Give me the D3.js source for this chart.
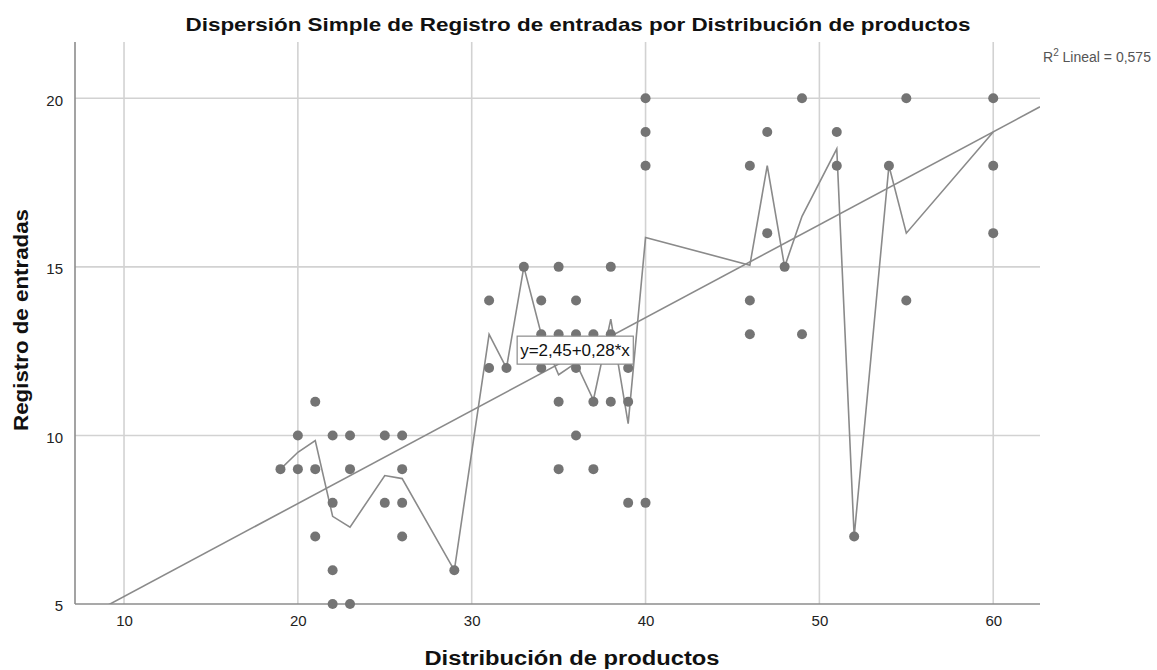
<!DOCTYPE html>
<html>
<head>
<meta charset="utf-8">
<script src="https://cdn.jsdelivr.net/npm/d3@7"></script>
<style>
  html, body { margin: 0; padding: 0; background: #fff; }
  svg { display: block; font-family: "Liberation Sans", Arial, sans-serif; }
</style>
</head>
<body>
<svg id="chart" width="1157" height="670"></svg>
<script>
// ---- Data ----
const pointX = [19,20,20,21,21,21,22,22,22,22,23,23,23,25,25,26,26,26,26,29,
                31,31,32,33,34,34,34,35,35,35,35,36,36,36,36,37,37,37,38,38,38,
                39,39,39,40,40,40,40,46,46,46,47,47,48,49,49,51,51,52,54,55,55,60,60,60];
const pointY = [9,10,9,11,9,7,10,8,6,5,10,9,5,10,8,10,9,8,7,6,
                14,12,12,15,14,13,12,15,13,11,9,14,13,12,10,13,11,9,15,13,11,
                12,11,8,20,19,18,8,18,14,13,19,16,15,20,13,19,18,7,18,20,14,20,18,16];

// interpolation line (mean per x value)
const interpX = [19,20,21,22,23,25,26,29,31,32,33,34,35,36,37,38,39,40,46,47,48,49,51,52,54,55,60];
const interpY = [9,9.5,9.85,7.6,7.28,8.81,8.72,6,13,12,15,13,11.8,12.15,11.05,13.45,10.35,15.87,15.05,18,15,16.5,18.5,7,18,16,19];

// linear fit
const fitIntercept = 2.465;
const fitSlope = 0.2757;
const fitLabel = "y=2,45+0,28*x";
const r2Label = "0,575";

const xTicks = [10,20,30,40,50,60];
const yTicks = [5,10,15,20];

const title = "Dispersión Simple de Registro de entradas por Distribución de productos";
const xTitle = "Distribución de productos";
const yTitle = "Registro de entradas";

// ---- Layout ----
const svg = d3.select("#chart");
const L = 75, R = 1040, T = 42, B = 604;

const x = d3.scaleLinear().domain([7.18, 62.69]).range([L, R]);
const y = d3.scaleLinear().domain([5, 21.67]).range([B, T]);

const gridColor = "#d2d2d2";
const markColor = "#747474";
const lineColor = "#8a8a8a";

svg.append("defs").append("clipPath").attr("id", "plotclip")
  .append("rect").attr("x", L).attr("y", T).attr("width", R - L).attr("height", B - T);

// gridlines
svg.append("g").selectAll("line").data(xTicks).join("line")
  .attr("x1", d => x(d)).attr("x2", d => x(d))
  .attr("y1", T).attr("y2", B)
  .attr("stroke", gridColor).attr("stroke-width", 1.6);
svg.append("g").selectAll("line").data(yTicks.filter(d => d > 5)).join("line")
  .attr("x1", L).attr("x2", R)
  .attr("y1", d => y(d)).attr("y2", d => y(d))
  .attr("stroke", gridColor).attr("stroke-width", 1.6);

// axes via d3
const xAxis = svg.append("g").attr("transform", `translate(0,${B})`)
  .call(d3.axisBottom(x).tickValues(xTicks).tickSize(0).tickPadding(11).tickFormat(d3.format("d")));
const yAxis = svg.append("g").attr("transform", `translate(${L},0)`)
  .call(d3.axisLeft(y).tickValues(yTicks).tickSize(0).tickPadding(12).tickFormat(d3.format("d")));
[xAxis, yAxis].forEach(g => {
  g.select(".domain").attr("stroke", "#8c8c8c").attr("stroke-width", 1.6);
  g.selectAll("text").attr("font-size", 15).attr("fill", "#222")
    .attr("font-family", "'Liberation Sans', Arial, sans-serif");
});
yAxis.selectAll("text").attr("dy", "0.45em");
yAxis.select(".domain").attr("d", `M0,${T}V${B}`);
xAxis.select(".domain").attr("d", `M${L},0H${R}`);

const plot = svg.append("g").attr("clip-path", "url(#plotclip)");

// fit line
const fx0 = 7.18, fx1 = 62.69;
plot.append("line")
  .attr("x1", x(fx0)).attr("y1", y(fitIntercept + fitSlope * fx0))
  .attr("x2", x(fx1)).attr("y2", y(fitIntercept + fitSlope * fx1))
  .attr("stroke", lineColor).attr("stroke-width", 1.6);

// interpolation line
plot.append("path")
  .datum(interpX.map((d, i) => [d, interpY[i]]))
  .attr("d", d3.line().x(d => x(d[0])).y(d => y(d[1])))
  .attr("fill", "none").attr("stroke", lineColor).attr("stroke-width", 1.6)
  .attr("stroke-linejoin", "miter");

// points
svg.append("g").selectAll("circle").data(pointX.map((d, i) => [d, pointY[i]])).join("circle")
  .attr("cx", d => x(d[0])).attr("cy", d => y(d[1])).attr("r", 5)
  .attr("fill", markColor);

// fit label box
const lblCx = 35.94, lblCy = 12.53;
const lbl = svg.append("g").attr("transform", `translate(${x(lblCx)},${y(lblCy)})`);
const lt = lbl.append("text").attr("text-anchor", "middle").attr("dy", "0.36em")
  .attr("font-size", 17).attr("fill", "#111").text(fitLabel);
const bb = lt.node().getBBox();
lbl.insert("rect", "text")
  .attr("x", bb.x - 3).attr("y", -14).attr("width", bb.width + 6).attr("height", 28)
  .attr("fill", "#fff").attr("stroke", "#8a8a8a").attr("stroke-width", 1.2);

// R2 label
const r2 = svg.append("text").attr("x", 1043).attr("y", 62).attr("font-size", 14).attr("fill", "#555");
r2.append("tspan").text("R");
r2.append("tspan").attr("font-size", 10).attr("dy", -6).text("2");
r2.append("tspan").attr("dy", 6).text(" Lineal = " + r2Label);

// titles
svg.append("text").attr("x", 578).attr("y", 31).attr("text-anchor", "middle")
  .attr("font-size", 19).attr("font-weight", "bold").attr("fill", "#111")
  .attr("textLength", 785).attr("lengthAdjust", "spacingAndGlyphs").text(title);
svg.append("text").attr("x", 572).attr("y", 665).attr("text-anchor", "middle")
  .attr("font-size", 20).attr("font-weight", "bold").attr("fill", "#111")
  .attr("textLength", 295).attr("lengthAdjust", "spacingAndGlyphs").text(xTitle);
svg.append("text").attr("transform", "translate(28,320) rotate(-90)").attr("text-anchor", "middle")
  .attr("font-size", 20).attr("font-weight", "bold").attr("fill", "#111")
  .attr("textLength", 222).attr("lengthAdjust", "spacingAndGlyphs").text(yTitle);
</script>
</body>
</html>
